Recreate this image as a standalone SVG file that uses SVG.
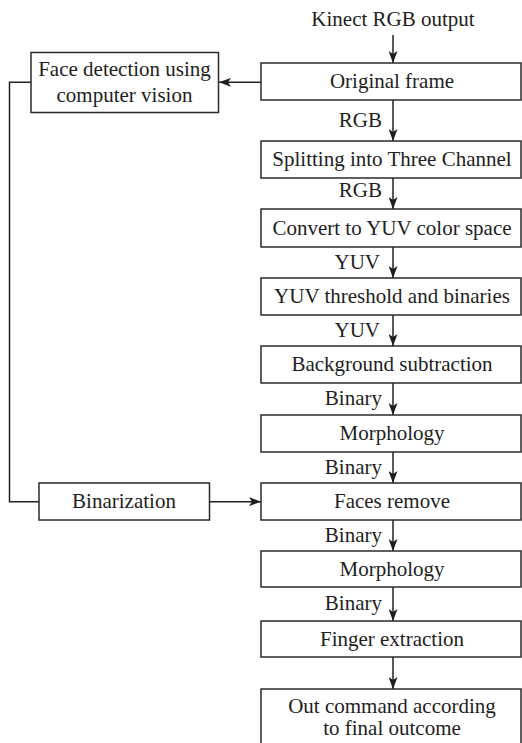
<svg xmlns="http://www.w3.org/2000/svg" width="522" height="743" viewBox="0 0 522 743">
<style>
.box{fill:#fff;stroke:#2a2a2a;stroke-width:1.5}
.t{font-family:"Liberation Serif","Times New Roman",serif;font-size:21px;fill:#1e1e1e;text-anchor:middle}
.l{font-family:"Liberation Serif","Times New Roman",serif;font-size:21px;fill:#1e1e1e;text-anchor:end}
.c{fill:none;stroke:#222;stroke-width:1.5}
</style>
<defs>
<marker id="ah" viewBox="0 0 12 9" refX="12" refY="4.5" markerWidth="12" markerHeight="9" markerUnits="userSpaceOnUse" orient="auto">
<path d="M0,0 L12,4.5 L0,9 L3,4.5 Z" fill="#1e1e1e"/>
</marker>
</defs>
<rect width="522" height="743" fill="#fff"/>
<g id="connectors">
<line class="c" x1="393" y1="35" x2="393" y2="63" marker-end="url(#ah)"/>
<line class="c" x1="393" y1="100" x2="393" y2="141" marker-end="url(#ah)"/>
<line class="c" x1="393" y1="178" x2="393" y2="209" marker-end="url(#ah)"/>
<line class="c" x1="393" y1="247" x2="393" y2="278" marker-end="url(#ah)"/>
<line class="c" x1="393" y1="315" x2="393" y2="346" marker-end="url(#ah)"/>
<line class="c" x1="393" y1="383" x2="393" y2="415" marker-end="url(#ah)"/>
<line class="c" x1="393" y1="452" x2="393" y2="483" marker-end="url(#ah)"/>
<line class="c" x1="393" y1="520" x2="393" y2="551" marker-end="url(#ah)"/>
<line class="c" x1="393" y1="587" x2="393" y2="621" marker-end="url(#ah)"/>
<line class="c" x1="393" y1="657" x2="393" y2="689" marker-end="url(#ah)"/>
<line class="c" x1="261" y1="82.3" x2="219" y2="82.3" marker-end="url(#ah)"/>
<polyline class="c" points="31,82.3 9.5,82.3 9.5,501.7 39,501.7"/>
<line class="c" x1="209.5" y1="501.7" x2="261" y2="501.7" marker-end="url(#ah)"/>
<text class="l" x="382" y="127">RGB</text>
<text class="l" x="382" y="197">RGB</text>
<text class="l" x="380" y="269">YUV</text>
<text class="l" x="380" y="337">YUV</text>
<text class="l" x="382" y="405">Binary</text>
<text class="l" x="382" y="474">Binary</text>
<text class="l" x="382" y="542">Binary</text>
<text class="l" x="382" y="610">Binary</text>
</g>
<g id="kinect"><text class="t" x="393" y="26">Kinect RGB output</text></g>
<g id="original"><rect class="box" x="261" y="63" width="260" height="37"/><text class="t" x="392" y="88">Original frame</text></g>
<g id="face"><rect class="box" x="31" y="52.5" width="187.5" height="60"/><text class="t" x="124.5" y="76">Face detection using</text><text class="t" x="124.5" y="102">computer vision</text></g>
<g id="split"><rect class="box" x="261" y="141" width="260" height="37"/><text class="t" x="392" y="165.5">Splitting into Three Channel</text></g>
<g id="yuvconv"><rect class="box" x="261" y="209" width="260" height="38"/><text class="t" x="392" y="234.5">Convert to YUV color space</text></g>
<g id="yuvthr"><rect class="box" x="261" y="278" width="260" height="37"/><text class="t" x="392" y="303">YUV threshold and binaries</text></g>
<g id="bg"><rect class="box" x="261" y="346" width="260" height="37"/><text class="t" x="392" y="371">Background subtraction</text></g>
<g id="morph1"><rect class="box" x="261" y="415" width="260" height="37"/><text class="t" x="392" y="440">Morphology</text></g>
<g id="faces"><rect class="box" x="261" y="483" width="260" height="37"/><text class="t" x="392" y="508">Faces remove</text></g>
<g id="binar"><rect class="box" x="39" y="483" width="170.5" height="37"/><text class="t" x="124" y="508">Binarization</text></g>
<g id="morph2"><rect class="box" x="261" y="551" width="260" height="36"/><text class="t" x="392" y="575.5">Morphology</text></g>
<g id="finger"><rect class="box" x="261" y="621" width="260" height="36"/><text class="t" x="392" y="645.5">Finger extraction</text></g>
<g id="out"><rect class="box" x="261" y="689" width="260" height="70"/><text class="t" x="392" y="712.5">Out command according</text><text class="t" x="392" y="735">to final outcome</text></g>
</svg>
